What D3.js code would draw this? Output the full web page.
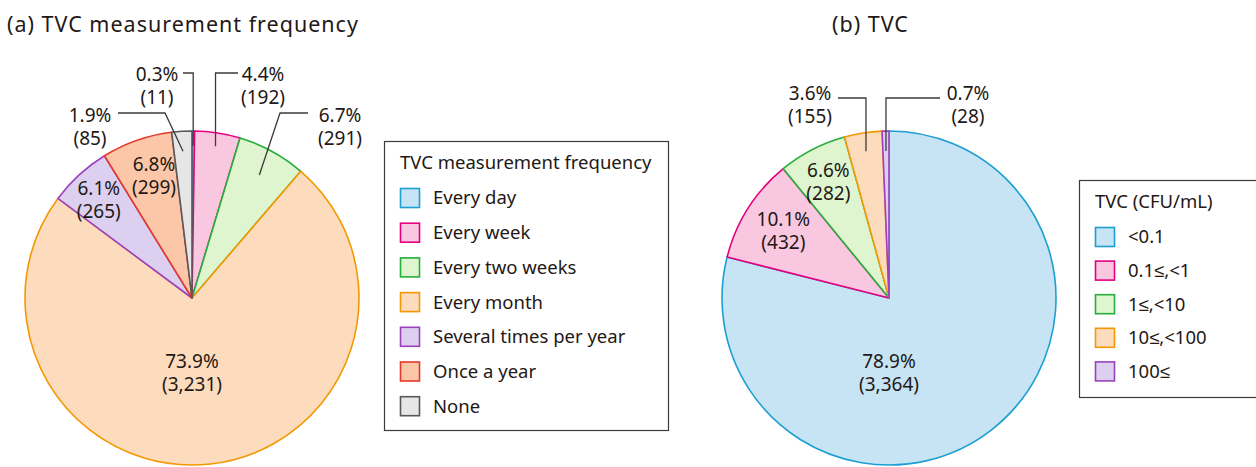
<!DOCTYPE html>
<html>
<head>
<meta charset="utf-8">
<script src="https://cdn.jsdelivr.net/npm/d3@7"></script>
<style>
  body { margin: 0; background: #fff; }
  svg text { font-family: "Noto Sans", sans-serif; fill: #231815; }
</style>
</head>
<body>
<div id="chart"></div>
<script>
// (a) TVC measurement frequency
var freqCats = ["Every day", "Every week", "Every two weeks", "Every month",
  "Several times per year", "Once a year", "None"];
var freqCounts = [11, 192, 291, 3231, 265, 299, 85];
var freqPcts = ["0.3", "4.4", "6.7", "73.9", "6.1", "6.8", "1.9"];

// (b) TVC
var tvcCats = ["<0.1", "0.1≤,<1", "1≤,<10", "10≤,<100", "100≤"];
var tvcCounts = [3364, 432, 282, 155, 28];
var tvcPcts = ["78.9", "10.1", "6.6", "3.6", "0.7"];

// colours
var fills = {
  blue: "#c6e4f4", pink: "#f9c8e0", green: "#def5cf", orange: "#fddcbd",
  purple: "#dccff0", red: "#fcc7a8", grey: "#e6e6e6"
};
var strokes = {
  blue: "#1c9fd2", pink: "#e4007f", green: "#26ae3a", orange: "#f39800",
  purple: "#9b41be", red: "#e6382a", grey: "#595757"
};
var freqColors = ["blue", "pink", "green", "orange", "purple", "red", "grey"];
var tvcColors = ["blue", "pink", "green", "orange", "purple"];

var svgWidth = 1256;
var svgHeight = 467;
var radius = 167;

var svg = d3.select("#chart")
  .append("svg")
  .attr("width", svgWidth)
  .attr("height", svgHeight);

// label layout (relative to each pie centre)
var freqLayout = [
  {kind: "out", k: 0.91, ey: -225, tx: -9, lx: -35, ly: -224},
  {kind: "out", k: 0.92, ey: -225, tx: 46, lx: 71, ly: -224},
  {kind: "out", k: 0.84, ex: 88, ey: -185, tx: 116, lx: 148, ly: -183},
  {kind: "big"},
  {kind: "in", k: 0.80, dx: -3},
  {kind: "in", k: 0.78, dx: 5},
  {kind: "out", k: 0.88, ex: -27, ey: -185, tx: -74, lx: -102, ly: -183}
];
var tvcLayout = [
  {kind: "big"},
  {kind: "in", k: 0.75, dx: 0},
  {kind: "in", k: 0.79, dx: 0},
  {kind: "out", k: 0.89, ey: -200, tx: -51, lx: -79, ly: -205},
  {kind: "out", k: 0.88, ey: -200, tx: 51, lx: 79, ly: -205}
];

function drawPie(cx, cy, cats, counts, pcts, colors, layout) {
  var data = cats.map(function(c, i) {
    return {cat: c, count: counts[i], pct: pcts[i], color: colors[i], lay: layout[i]};
  });

  var pie = d3.pie().sort(null).value(d => d.count);
  var arcs = pie(data);
  var arc = d3.arc().innerRadius(0).outerRadius(radius);

  var g = svg.append("g").attr("transform", `translate(${cx}, ${cy})`);

  g.selectAll("path")
    .data(arcs)
    .enter()
    .append("path")
    .attr("d", arc)
    .attr("fill", d => fills[d.data.color])
    .attr("stroke", d => strokes[d.data.color])
    .attr("stroke-width", 1.6)
    .attr("stroke-linejoin", "round");

  arcs.forEach(function(a) {
    var lay = a.data.lay;
    var lines = [a.data.pct + "%", "(" + d3.format(",")(a.data.count) + ")"];
    var x, y;
    if (lay.kind === "big") {
      x = 0; y = 63;
    } else if (lay.kind === "in") {
      var c = d3.arc().innerRadius(0).outerRadius(2 * radius * lay.k).centroid(a);
      x = c[0] + lay.dx; y = c[1] - 11;
    } else {
      // leader line
      var p = d3.arc().innerRadius(0).outerRadius(2 * radius * lay.k).centroid(a);
      var ex = lay.ex === undefined ? p[0] : lay.ex;
      g.append("polyline")
        .attr("points", [[p[0], p[1]], [ex, lay.ey], [lay.tx, lay.ey]].join(" "))
        .attr("fill", "none")
        .attr("stroke", "#3e3a39")
        .attr("stroke-width", 1.3);
      x = lay.lx; y = lay.ly;
    }
    lines.forEach(function(t, j) {
      g.append("text")
        .attr("x", x)
        .attr("y", y + j * 23)
        .attr("dy", "0.35em")
        .attr("text-anchor", "middle")
        .style("font-size", "19px")
        .text(t);
    });
  });
}

function drawLegend(x, y, w, h, title, cats, colors, step) {
  var g = svg.append("g").attr("transform", `translate(${x}, ${y})`);
  g.append("rect")
    .attr("x", 0.5).attr("y", 0.5)
    .attr("width", w).attr("height", h)
    .attr("fill", "#fff")
    .attr("stroke", "#3e3a39")
    .attr("stroke-width", 1.2);
  g.append("text")
    .attr("x", 16)
    .attr("y", 22)
    .attr("dy", "0.35em")
    .style("font-size", "18.5px")
    .text(title);
  var items = g.selectAll("g.item")
    .data(cats)
    .enter()
    .append("g")
    .attr("class", "item")
    .attr("transform", (d, i) => `translate(0, ${57 + i * step})`);
  items.append("rect")
    .attr("x", 16.5).attr("y", -9.5)
    .attr("width", 19).attr("height", 19)
    .attr("fill", (d, i) => fills[colors[i]])
    .attr("stroke", (d, i) => strokes[colors[i]])
    .attr("stroke-width", 1.6);
  items.append("text")
    .attr("x", 49)
    .attr("y", 0)
    .attr("dy", "0.35em")
    .style("font-size", "18.5px")
    .text(d => d);
}

// titles
svg.append("text")
  .attr("x", 7).attr("y", 32)
  .style("font-size", "21.5px")
  .style("letter-spacing", "1px")
  .text("(a) TVC measurement frequency");
svg.append("text")
  .attr("x", 832).attr("y", 32)
  .style("font-size", "21.5px")
  .style("letter-spacing", "1px")
  .text("(b) TVC");

drawPie(192, 298, freqCats, freqCounts, freqPcts, freqColors, freqLayout);
drawPie(889, 298, tvcCats, tvcCounts, tvcPcts, tvcColors, tvcLayout);

drawLegend(384, 141, 284, 289, "TVC measurement frequency", freqCats, freqColors, 34.7);
drawLegend(1079, 180, 200, 217, "TVC (CFU/mL)", tvcCats, tvcColors, 33.6);
</script>
</body>
</html>
